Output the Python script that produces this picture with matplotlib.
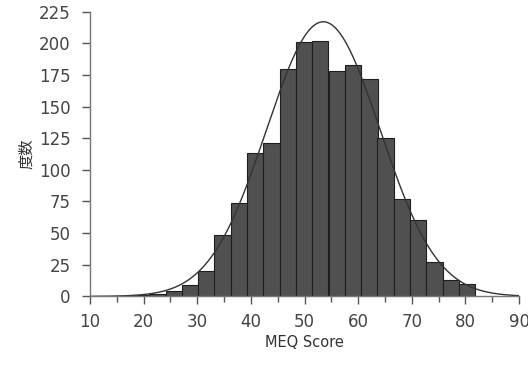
import numpy as np
import matplotlib.pyplot as plt

# Data (bin left edges, counts)
bin_left = [18.0, 21.0, 24.1, 27.1, 30.2, 33.2, 36.2, 39.3, 42.3, 45.4, 48.4,
            51.4, 54.5, 57.5, 60.6, 63.6, 66.6, 69.7, 72.7, 75.8, 78.8]
bin_width = 3.04
counts = [1, 2, 4.5, 9, 20, 48.5, 73.5, 113, 121, 180, 201,
          202, 178, 183, 172, 125, 77, 60, 27, 13, 10]

# normal curve parameters
meq_mean = 53.5
meq_sd = 10.6
n_subjects = 1897

plt.rcParams['font.family'] = ['DejaVu Sans', 'Noto Sans CJK JP']

fig = plt.figure(figsize=(5.28, 3.65), dpi=100)
ax = fig.add_axes([0.1705, 0.188, 0.8125, 0.780])

ax.bar(bin_left, counts, width=bin_width, align='edge',
       color='#505050', edgecolor='#1e1e1e', linewidth=0.8)

xs = np.linspace(10, 90, 400)
pdf = np.exp(-0.5 * ((xs - meq_mean) / meq_sd) ** 2) / (meq_sd * np.sqrt(2 * np.pi))
ax.plot(xs, pdf * n_subjects * bin_width, color='#333333', linewidth=1.0)

ax.set_xlim(10, 90)
ax.set_ylim(0, 225)
ax.set_xticks(range(10, 91, 10))
ax.set_xticks(range(15, 90, 10), minor=True)
ax.set_yticks(range(0, 226, 25))

for side in ['top', 'right']:
    ax.spines[side].set_visible(False)
for side in ['left', 'bottom']:
    ax.spines[side].set_color('#777777')
    ax.spines[side].set_linewidth(1.0)

ax.tick_params(axis='both', which='major', direction='out', color='#555555',
               labelcolor='#444444', labelsize=12, length=6, width=1.0)
ax.tick_params(axis='x', which='minor', direction='out', color='#555555',
               length=4, width=1.0)
ax.tick_params(axis='x', pad=6)
ax.tick_params(axis='y', pad=8)

ax.set_xlabel('MEQ Score', fontsize=10.5, color='#333333', labelpad=3)
ax.set_ylabel('度数', fontsize=11, color='#333333', family=['Noto Sans CJK JP'], labelpad=3)

fig.savefig('out.png', dpi=100)
